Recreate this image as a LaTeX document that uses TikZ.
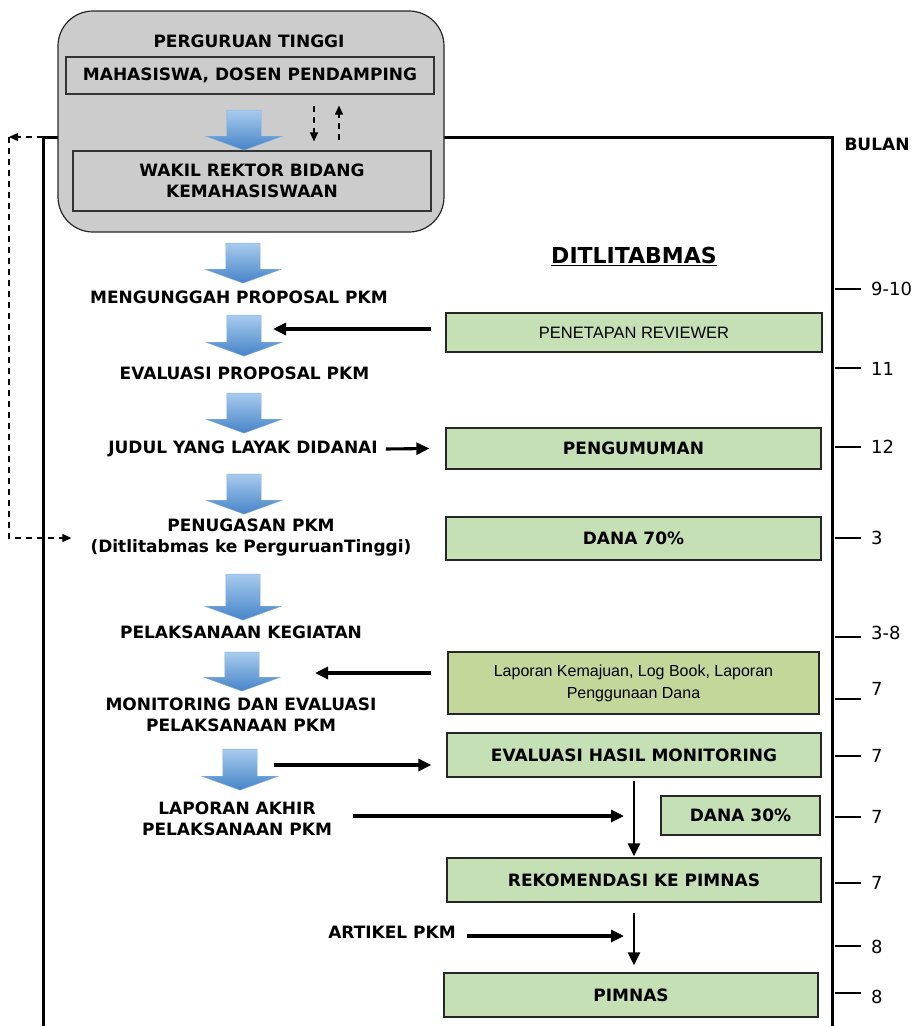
\documentclass[tikz,border=0pt]{standalone}
\usepackage{fontspec}
\setmainfont{DejaVu Sans}
\newfontfamily\arialfont{Liberation Sans}
\usepackage{xcolor}
\usepackage{tikz}
\usetikzlibrary{arrows.meta,shapes.arrows}
\definecolor{boxgray}{RGB}{204,204,204}
\definecolor{boxgreen}{RGB}{197,224,180}
\definecolor{boxolive}{RGB}{196,215,155}
\definecolor{arrowlight}{RGB}{168,203,238}
\definecolor{arrowdark}{RGB}{70,132,200}

\begin{document}
\begin{tikzpicture}[x=1pt,y=-1pt,
  txt/.style={font=\fontsize{17}{21}\selectfont\bfseries, align=center, inner sep=2pt},
  graybox/.style={draw=black!80, line width=1.2, fill=boxgray, inner sep=0pt},
  greenbox/.style={draw=black!85, line width=1.3, fill=boxgreen, inner sep=0pt, align=center, font=\fontsize{17}{21}\selectfont\bfseries},
  bluearrow/.style={single arrow, rotate=-90, single arrow head extend=21pt, single arrow tip angle=140, inner xsep=0pt, inner ysep=17pt, text height=0pt, text depth=0pt, top color=arrowlight, bottom color=arrowdark, draw=arrowlight!60!arrowdark, line width=0.4},
  bigarrow/.style={line width=3.1, -{Triangle[length=13pt,width=12pt]}},
  dasharrow/.style={line width=1.2, dash pattern=on 6pt off 5pt, -{Triangle[length=9pt,width=8pt]}},
  monthtick/.style={line width=1.2},
  monthlbl/.style={font=\fontsize{18}{20}\selectfont, anchor=west, inner sep=0pt}]
\useasboundingbox (0,0) rectangle (915,1026);

\coordinate (fl) at (43,137);
\coordinate (fr) at (832,137);
\coordinate (dl) at (9,137);
\draw[line width=3] (43,1030) -- (fl) -- (fr) -- (832,1030);

\node[draw=black!85, line width=1.2, fill=boxgray, rounded corners=35pt, minimum width=386pt, minimum height=221pt] (pt) at (251,121.5) {};
\node[txt] (perg) at (249,41) {PERGURUAN TINGGI};
\node[txt, graybox, minimum width=368pt, minimum height=37pt] (mhs) at (250,75.5) {MAHASISWA, DOSEN PENDAMPING};
\node[txt, graybox, minimum width=358pt, minimum height=60pt] (wr) at (252,181) {WAKIL REKTOR BIDANG\\KEMAHASISWAAN};

\foreach \n/\x/\y/\h in {1/244/127/40, 2/243/260/40, 3/244/332.5/41, 4/244/410/40, 5/244/491/40, 6/243/594/46, 7/242/668.5/39, 8/240/766.5/41}
  \node[bluearrow, minimum height=\h pt] (ba\n) at (\x,\y) {};

\node[txt] (mu) at (239,297) {MENGUNGGAH PROPOSAL PKM};
\node[txt] (ev) at (244.5,373) {EVALUASI PROPOSAL PKM};
\node[txt] (judul) at (243,449) {JUDUL YANG LAYAK DIDANAI};
\node[txt] (pen) at (251,538) {PENUGASAN PKM\\(Ditlitabmas ke PerguruanTinggi)};
\node[txt] (pk) at (241,632) {PELAKSANAAN KEGIATAN};
\node[txt] (mon) at (241,714.5) {MONITORING DAN EVALUASI\\PELAKSANAAN PKM};
\node[txt] (lakh) at (237,818.5) {LAPORAN AKHIR\\PELAKSANAAN PKM};
\node[txt] (art) at (392,932) {ARTIKEL PKM};

\node[font=\fontsize{17}{20}\selectfont\bfseries] (bulan) at (877,144) {BULAN};
\node[font=\fontsize{22}{26}\selectfont\bfseries] (dit) at (634,256) {\underline{DITLITABMAS}};

\node[greenbox, minimum width=376pt, minimum height=39pt, font=\arialfont\fontsize{16.5}{20}\selectfont] (rev) at (634,332.5) {PENETAPAN REVIEWER};
\node[greenbox, minimum width=375pt, minimum height=41pt] (peng) at (633.5,448.5) {PENGUMUMAN};
\node[greenbox, minimum width=375pt, minimum height=43pt] (d70) at (633.5,538.5) {DANA 70\%};
\node[greenbox, fill=boxolive, minimum width=371pt, minimum height=62pt, font=\arialfont\fontsize{16}{22}\selectfont] (lap) at (633.5,683) {Laporan Kemajuan, Log Book, Laporan\\Penggunaan Dana};
\node[greenbox, minimum width=374pt, minimum height=44pt] (evh) at (634,755) {EVALUASI HASIL MONITORING};
\node[greenbox, minimum width=159pt, minimum height=39pt] (d30) at (740.5,815.5) {DANA 30\%};
\node[greenbox, minimum width=374pt, minimum height=44pt] (rek) at (634,880) {REKOMENDASI KE PIMNAS};
\node[greenbox, minimum width=374pt, minimum height=44pt] (pim) at (631,995) {PIMNAS};

\path (314,0) coordinate (xd) (339,0) coordinate (xu);
\draw[dasharrow, shorten <=11pt, shorten >=9pt] (mhs.south -| xd) -- (wr.north -| xd);
\draw[dasharrow, shorten <=10pt, shorten >=11pt] (wr.north -| xu) -- (mhs.south -| xu);
\draw[dasharrow] (fl) -- (dl);
\draw[dasharrow] (dl) |- ([xshift=-17pt]pen.west);

\coordinate (revin) at (273,329);
\coordinate (lapin) at (315,673);
\coordinate (monout) at (274,765);
\coordinate (j1) at (624,816);
\coordinate (j2) at (624,936);
\draw[bigarrow] ([xshift=-14pt,yshift=3.5pt]rev.west) -- (revin);
\draw[bigarrow] ([xshift=6pt]judul.east) -- ([xshift=-16pt]peng.west);
\draw[bigarrow] ([xshift=-16pt,yshift=10pt]lap.west) -- (lapin);
\draw[bigarrow] (monout) -- ([xshift=-15pt,yshift=-10pt]evh.west);
\draw[bigarrow] ([xshift=19pt,yshift=2.5pt]lakh.east) -- (j1);
\draw[bigarrow] ([xshift=9pt,yshift=-4pt]art.east) -- (j2);
\draw[bigarrow, line width=2.6, shorten <=3pt, shorten >=1pt] (evh.south) -- (rek.north);
\draw[bigarrow, line width=2.6, shorten <=10pt, shorten >=7pt] (rek.south) -- (rek.south |- pim.north);

\foreach \y/\m/\ly [count=\i] in {289/9-10/289, 368/11/369, 447/12/447, 538/3/538, 637/3-8/633, 699/7/689, 756/7/756, 817/7/817, 883/7/883, 946/8/947, 993/8/997}
{
  \draw[monthtick] (835,\y) -- (861,\y);
  \node[monthlbl] (bln\i) at (871,\ly) {\m};
}
\end{tikzpicture}
\end{document}
